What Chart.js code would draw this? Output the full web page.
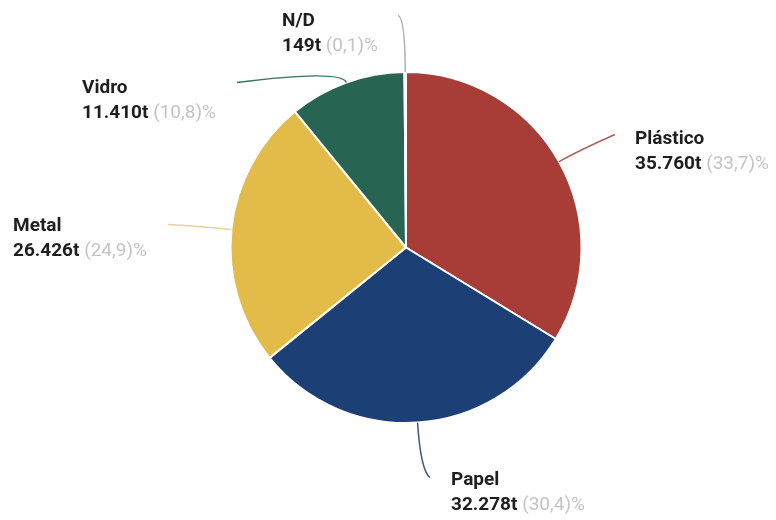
<!DOCTYPE html>
<html>
<head>
<meta charset="utf-8">
<script src="https://cdn.jsdelivr.net/npm/chart.js@4.4.1/dist/chart.umd.min.js"></script>
<style>
html,body{margin:0;padding:0;background:#fff;}
#wrap{width:776px;height:520px;position:relative;}
</style>
</head>
<body>
<div id="wrap"><canvas id="c" width="776" height="520"></canvas></div>
<script>
// ---- data ----
const categories = ['Plástico', 'Papel', 'Metal', 'Vidro', 'N/D'];
const tonnes = [35760, 32278, 26426, 11410, 149];
const valueLabels = ['35.760t', '32.278t', '26.426t', '11.410t', '149t'];
const percentLabels = ['(33,7)', '(30,4)', '(24,9)', '(10,8)', '(0,1)'];

// ---- style ----
const sliceColors = ['#a83c36', '#1c3f76', '#e3bb48', '#286452', '#9a9a9a'];
const lineColors = ['#a8625e', '#41577a', '#e6d49a', '#3f7564', '#b0b0b0'];
// leader line end (relative to pie centre) and elbow length along radial direction
const lineEnds = [[209, -113], [24, 230], [-238, -23], [-169, -165], [-8, -232]];
const elbows = [25, 48, 30, 14, 55];
// text anchor (left x, name-line centre y) relative to pie centre
const textAnchors = [[229, -108], [45, 233], [-393, -21], [-324, -159], [-124, -226]];

const FONT = 'Roboto';
const NAME_SIZE = 19;

const labelPlugin = {
  id: 'leaderLabels',
  afterDatasetsDraw(chart) {
    const ctx = chart.ctx;
    const meta = chart.getDatasetMeta(0);
    meta.data.forEach((arc, i) => {
      const p = arc.getProps(['x', 'y', 'startAngle', 'endAngle', 'outerRadius'], true);
      const mid = (p.startAngle + p.endAngle) / 2;
      const cx = p.x, cy = p.y;
      const sx = cx + Math.cos(mid) * p.outerRadius;
      const sy = cy + Math.sin(mid) * p.outerRadius;
      const qx = sx + Math.cos(mid) * elbows[i];
      const qy = sy + Math.sin(mid) * elbows[i];
      const ex = cx + lineEnds[i][0];
      const ey = cy + lineEnds[i][1];
      ctx.save();
      ctx.strokeStyle = lineColors[i];
      ctx.lineWidth = 1.5;
      ctx.beginPath();
      ctx.moveTo(sx, sy);
      ctx.quadraticCurveTo(qx, qy, ex, ey);
      ctx.stroke();

      const tx = cx + textAnchors[i][0];
      const ty = cy + textAnchors[i][1];
      ctx.textBaseline = 'middle';
      ctx.textAlign = 'left';
      ctx.fillStyle = '#1e1e1e';
      ctx.font = 'bold ' + NAME_SIZE + 'px ' + FONT;
      ctx.fillText(categories[i], tx, ty);
      const vy = ty + 25;
      ctx.fillText(valueLabels[i], tx, vy);
      let w = ctx.measureText(valueLabels[i] + ' ').width;
      ctx.font = NAME_SIZE + 'px ' + FONT;
      ctx.fillStyle = '#c4c4c4';
      ctx.fillText(percentLabels[i] + '%', tx + w, vy);
      ctx.restore();
    });
  }
};

function draw() {
  new Chart(document.getElementById('c'), {
    type: 'pie',
    data: {
      labels: categories,
      datasets: [{
        data: tonnes,
        backgroundColor: sliceColors,
        borderColor: '#ffffff',
        borderWidth: 2
      }]
    },
    options: {
      responsive: false,
      animation: false,
      layout: { padding: { top: 71, bottom: 96, left: 60, right: 24 } },
      plugins: { legend: { display: false }, tooltip: { enabled: false } }
    },
    plugins: [labelPlugin]
  });
}
Promise.all([
  document.fonts.load('bold 19px Roboto'),
  document.fonts.load('19px Roboto')
]).then(draw, draw);
</script>
</body>
</html>
